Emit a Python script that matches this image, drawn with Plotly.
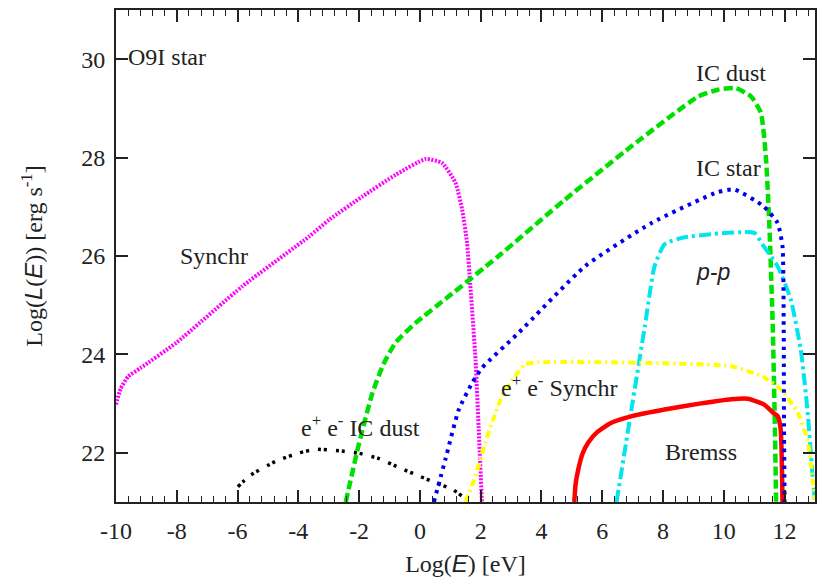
import plotly.graph_objects as go

# ---- data ----
synchr_x = [-10.0, -9.85, -9.6, -9.2, -8.01, -5.83, -3.64, -2.98, -1.89, -0.80, 0.19, 0.73, 1.17, 1.39, 1.55, 1.66, 1.83, 1.93, 2.04]
synchr_y = [22.98, 23.3, 23.55, 23.72, 24.24, 25.39, 26.40, 26.74, 27.21, 27.65, 27.97, 27.89, 27.49, 26.94, 26.27, 25.39, 23.90, 22.54, 21.0]

icdust_x = [-2.44, -2.0, -1.56, -1.2, -0.80, -0.14, 0.95, 2.59, 4.78, 6.96, 9.15, 9.8, 10.4, 10.9, 11.22, 11.39, 11.5, 11.61, 11.68, 11.72]
icdust_y = [21.0, 22.2, 23.22, 23.8, 24.24, 24.64, 25.18, 26.0, 27.15, 28.23, 29.24, 29.38, 29.41, 29.24, 28.91, 27.96, 26.6, 24.57, 22.54, 21.0]

icstar_x = [0.46, 0.84, 1.28, 1.72, 2.05, 3.25, 5.43, 7.62, 9.80, 10.35, 11.31, 11.77, 11.93, 11.97, 11.98, 12.0]
icstar_y = [21.0, 21.87, 22.88, 23.42, 23.73, 24.44, 25.79, 26.67, 27.30, 27.35, 27.01, 26.67, 26.2, 24.57, 22.54, 21.0]

pp_x = [6.47, 6.96, 7.40, 7.72, 8.05, 8.71, 11.0, 11.31, 11.77, 12.2, 12.53, 12.75, 12.92, 13.0]
pp_y = [21.0, 22.88, 24.57, 25.79, 26.24, 26.38, 26.47, 26.20, 25.79, 25.12, 24.10, 22.88, 21.53, 21.0]

eesyn_x = [1.5, 1.83, 2.15, 2.70, 3.13, 3.46, 3.90, 10.24, 11.33, 11.87, 12.43, 12.75, 12.92, 13.0]
eesyn_y = [21.0, 21.53, 22.21, 23.15, 23.56, 23.80, 23.84, 23.76, 23.53, 23.29, 22.82, 22.27, 21.46, 21.05]

brems_x = [5.08, 5.12, 5.21, 5.35, 5.54, 5.85, 6.30, 7.0, 8.05, 9.2, 10.24, 10.79, 11.33, 11.61, 11.77, 11.87, 11.93]
brems_y = [21.0, 21.35, 21.66, 21.98, 22.21, 22.43, 22.61, 22.75, 22.88, 23.0, 23.09, 23.10, 22.98, 22.82, 22.75, 22.48, 21.0]

eeic_x = [-5.99, -5.61, -4.73, -3.97, -3.42, -2.66, -2.0, -1.34, -0.69, -0.03, 0.51, 1.06, 1.39]
eeic_y = [21.31, 21.53, 21.83, 22.0, 22.07, 22.04, 21.99, 21.88, 21.70, 21.53, 21.39, 21.26, 21.12]

x_ticks = [-10, -8, -6, -4, -2, 0, 2, 4, 6, 8, 10, 12]
y_ticks = [22, 24, 26, 28, 30]

SERIF = "Liberation Serif, Times New Roman, serif"
TXT = "#222222"

fig = go.Figure()

def add(x, y, color, dash, width, smooth=0.5):
    fig.add_trace(go.Scatter(x=x, y=y, mode="lines",
                             line=dict(color=color, dash=dash, width=width, shape="spline", smoothing=smooth),
                             showlegend=False, hoverinfo="skip"))

add(eeic_x, eeic_y, "#000000", "3px,3px,3px,9px", 3.5)
add(synchr_x, synchr_y, "#ff00ff", "2px,1.5px", 4)
add(icdust_x, icdust_y, "#00e000", "9px,4px", 4.5)
add(pp_x, pp_y, "#00e5ee", "12px,4px,3px,4px", 4)
add(eesyn_x, eesyn_y, "#ffff00", "7px,4px,2px,4px", 4)
add(brems_x, brems_y, "#ff0000", "solid", 4.5)
add(icstar_x, icstar_y, "#0000ee", "3.5px,5px", 4)

def label(x, y, text, family=SERIF, size=24):
    fig.add_annotation(x=x, y=y, xref="x", yref="y", text=text, showarrow=False,
                       xanchor="left", yanchor="middle", font=dict(family=family, size=size, color=TXT))

label(-9.67, 30.05, "O9I star")
label(-7.97, 26.0, "Synchr")
label(9.02, 29.72, "IC dust")
label(9.02, 27.79, "IC star")
label(9.02, 25.68, "<i>p-p</i>", family="Liberation Sans, Arial, sans-serif", size=23)
label(-3.97, 22.55, "e<sup>+</sup> e<sup>-</sup> IC dust")
label(2.59, 23.35, "e<sup>+</sup> e<sup>-</sup> Synchr")
label(8.0, 22.02, "Bremss")

SANS_I = "<span style='font-family:Liberation Sans'><i>%s</i></span>"

axis_common = dict(ticks="inside", ticklen=12, tickwidth=1.5, tickcolor=TXT,
                   showline=True, linecolor=TXT, linewidth=2, mirror="ticks",
                   showgrid=False, zeroline=False,
                   tickfont=dict(family="Liberation Serif", size=24, color=TXT))

fig.update_layout(
    width=823, height=579,
    margin=dict(l=116, r=6, t=10, b=76),
    paper_bgcolor="white", plot_bgcolor="white",
    font=dict(family=SERIF, size=24, color=TXT),
    xaxis=dict(range=[-10, 13], tickvals=x_ticks, ticktext=[str(v) for v in x_ticks],
               minor=dict(dtick=0.4, tick0=-10, ticks="inside", ticklen=6, tickwidth=1.2, tickcolor=TXT, showgrid=False),
               ticklabelstandoff=6,
               title=dict(text="Log(" + SANS_I % "E" + ") [eV]", standoff=12, font=dict(family=SERIF, size=24, color=TXT)),
               **axis_common),
    yaxis=dict(range=[21, 31], tickvals=y_ticks, ticktext=[str(v) for v in y_ticks],
               ticklabelstandoff=4,
               title=dict(text="Log(" + SANS_I % "L" + "(" + SANS_I % "E" + ")) [erg s<sup>-1</sup>]", standoff=32,
                          font=dict(family=SERIF, size=24, color=TXT)),
               **axis_common),
)

fig.write_html("out.html")
